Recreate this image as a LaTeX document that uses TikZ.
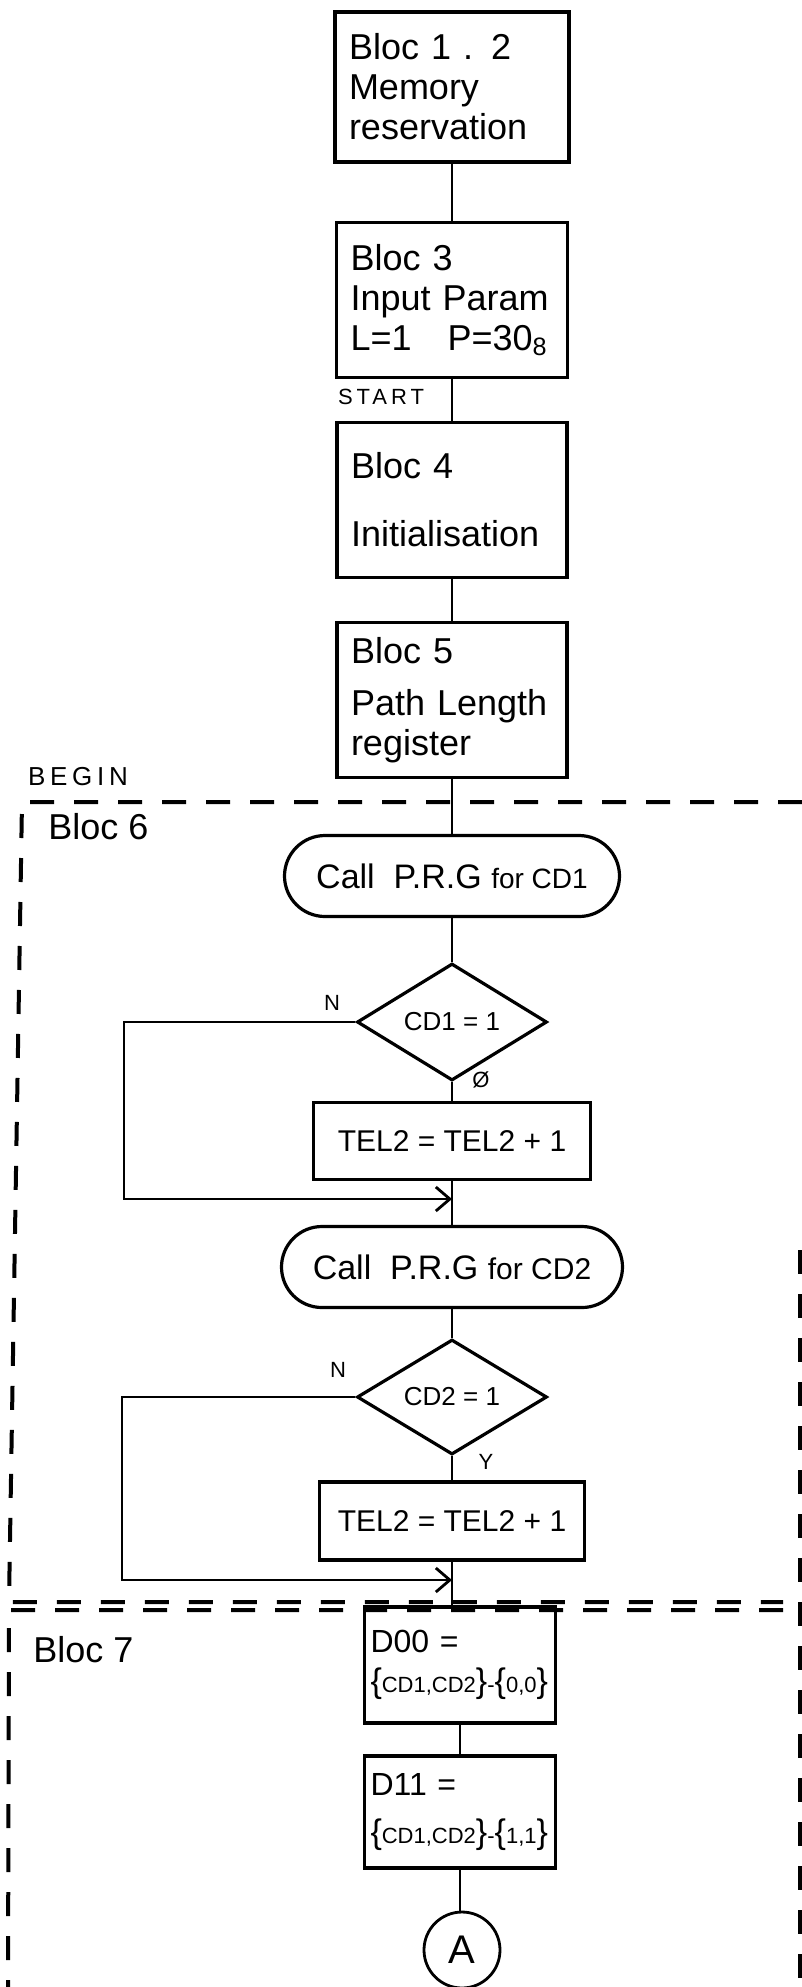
\documentclass[tikz,border=0pt]{standalone}
\usepackage{fontspec}
\setmainfont{Liberation Sans}
\usetikzlibrary{shapes.geometric,shapes.misc,arrows.meta}

\newcommand{\bigbr}[1]{{\fontsize{17}{17}\selectfont#1}}

\begin{document}
\begin{tikzpicture}[x=0.5pt,y=-0.5pt,
  blocbox/.style={draw, line width=1.6pt, inner xsep=7pt, inner ysep=0pt, align=left, font=\fontsize{18}{20}\selectfont},
  callbox/.style={draw, line width=1.6pt, rounded rectangle, inner sep=0pt, font=\fontsize{17}{19}\selectfont},
  testbox/.style={draw, line width=1.6pt, diamond, inner sep=0pt, font=\fontsize{13}{15}\selectfont},
  incbox/.style={draw, line width=1.6pt, inner sep=0pt, font=\fontsize{15}{17}\selectfont},
  setbox/.style={draw, line width=1.6pt, inner xsep=3pt, inner ysep=0pt, align=left, font=\fontsize{16}{20}\selectfont},
  flow/.style={line width=1.1pt},
  loopback/.style={line width=1.4pt, -{Straight Barb[length=7pt,width=12pt,line width=1.4pt]}},
  zone/.style={line width=2pt, dash pattern=on 12pt off 10pt},
  note/.style={inner sep=0pt, font=\fontsize{11}{13}\selectfont},
  caps/.style={inner sep=0pt, font=\fontsize{11}{13}\selectfont\addfontfeatures{LetterSpace=18}}
]
\useasboundingbox (0,0) rectangle (802,1987);

% main column
\node[blocbox, text width=103pt, minimum height=75pt] (b12) at (452,87) {Bloc 1 . 2\\Memory\\reservation};
\node[blocbox, text width=101.5pt, minimum height=77.5pt] (b3) at (452,300) {Bloc 3\\Input Param\\L=1\quad P=30\textsubscript{8}};
\node[blocbox, text width=101pt, minimum height=77.5pt] (b4) at (452,500) {Bloc 4\\[14pt]Initialisation};
\node[blocbox, text width=101pt, minimum height=77.5pt] (b5) at (452,700) {Bloc 5\\[6pt]Path Length\\register};

\node[callbox, minimum width=167.5pt, minimum height=40.5pt] (prg1) at (452,876) {Call\ \ P.R.G {\fontsize{14}{16}\selectfont for CD1}};
\node[testbox, minimum width=95pt, minimum height=58.5pt] (cd1) at (452,1022) {CD1 = 1};
\node[incbox, minimum width=138.5pt, minimum height=38.5pt] (tel1) at (452,1141) {TEL2 = TEL2 + 1};

\node[callbox, minimum width=170.5pt, minimum height=40.5pt] (prg2) at (452,1267) {Call\ \ P.R.G {\fontsize{15}{17}\selectfont for CD2}};
\node[testbox, minimum width=95pt, minimum height=57.5pt] (cd2) at (452,1397) {CD2 = 1};
\node[incbox, minimum width=132.5pt, minimum height=39pt] (tel2) at (452,1521) {TEL2 = TEL2 + 1};

\node[setbox, text width=89.5pt, minimum height=58pt] (d00) at (460,1665) {D00 =\\\mbox{\fontsize{11}{13}\selectfont\bigbr{\{}CD1,CD2\bigbr{\}}-\bigbr{\{}0,0\bigbr{\}}}};
\node[setbox, text width=89.5pt, minimum height=56pt] (d11) at (460,1812) {D11 =\\[4pt]\mbox{\fontsize{11}{13}\selectfont\bigbr{\{}CD1,CD2\bigbr{\}}-\bigbr{\{}1,1\bigbr{\}}}};
\node[draw, circle, line width=1.4pt, minimum size=38pt, inner sep=0pt, font=\fontsize{20}{22}\selectfont] (conA) at (462,1950) {A};

\coordinate (j1) at (452,1199);
\coordinate (l1) at (124,1199);
\coordinate (j2) at (452,1580);
\coordinate (l2) at (122,1580);

\draw[flow] (b12.south) -- (b12.south |- b3.north);
\draw[flow] (b3.south) -- (b3.south |- b4.north);
\draw[flow] (b4.south) -- (b4.south |- b5.north);
\draw[flow] (b5.south) -- (b5.south |- prg1.north);
\draw[flow] (prg1.south) -- (cd1.north);
\draw[flow] (cd1.south) -- (tel1.north);
\draw[flow] (tel1.south) -- (prg2.north);
\draw[flow] (prg2.south) -- (cd2.north);
\draw[flow] (cd2.south) -- (tel2.north);
\draw[flow] (tel2.south) -- (tel2.south |- d00.north);
\draw[flow] (d00.south) -- (d00.south |- d11.north);
\draw[flow] (d11.south) -- (d11.south |- conA.north);

\draw[loopback] (cd1.west) -| (l1) -- (j1);
\draw[loopback] (cd2.west) -| (l2) -- (j2);

\node[note] (n1) at (332,1003) {N};
\node[note] (o1) at (481,1080) {Ø};
\node[note] (n2) at (338,1370) {N};
\node[note] (y2) at (486,1462) {Y};

\node[caps] (start) at (381,397) {START};

% dashed zones
\node[caps, font=\fontsize{13}{15}\selectfont\addfontfeatures{LetterSpace=18}] (begin) at (78,777) {BEGIN};
\node[note, anchor=west, font=\fontsize{18}{20}\selectfont] (bloc6) at (48,827) {Bloc 6};
\node[note, anchor=west, font=\fontsize{18}{20}\selectfont] (bloc7) at (33,1650) {Bloc 7};

\draw[zone] (802,802) -- (22,802) -- (9,1602) -- (783,1602);
\draw[zone] (783,1610) -- (9,1610) -- (8,1990);
\draw[zone] (800,1250) -- (800,1990);
\end{tikzpicture}
\end{document}
